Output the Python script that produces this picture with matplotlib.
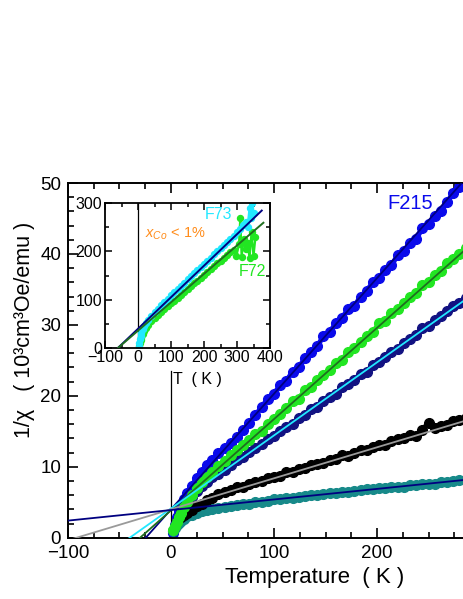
import matplotlib
matplotlib.use("Agg")
import matplotlib.pyplot as plt
from matplotlib.ticker import MultipleLocator, FixedLocator

plt.rcParams['font.family'] = ['Liberation Sans', 'DejaVu Sans']
plt.rcParams['mathtext.fontset'] = 'custom'
plt.rcParams['mathtext.rm'] = 'Liberation Sans'
plt.rcParams['mathtext.it'] = 'Liberation Sans:italic'

# main panel: 1/chi (10^3 cm^3 Oe/emu) vs T (K)
T = [2, 4, 6, 8, 10, 13, 16, 20, 25, 30, 35, 40, 46, 52, 58, 64, 70, 76, 82, 88,
     94, 100, 106, 112, 118, 124, 130, 136, 142, 148, 154, 160, 166, 172, 178, 184,
     190, 196, 202, 208, 214, 220, 226, 232, 238, 244, 250, 256, 262, 268, 274, 280, 286]

blue = [0.6, 1.8, 2.9, 3.8, 4.6, 5.5, 6.3, 7.3, 8.4, 9.3, 10.2, 11.0, 11.9, 12.6, 13.3,
        14.2, 15.2, 16.2, 17.3, 18.4, 19.6, 20.3, 21.5, 22.1, 23.4, 24.0, 25.3, 26.2,
        27.0, 28.4, 29.0, 30.2, 31.0, 32.2, 32.6, 34.0, 34.8, 36.0, 36.6, 37.8, 38.4,
        39.8, 40.4, 41.5, 42.1, 43.6, 44.2, 45.4, 46.0, 47.3, 48.6, 49.4, 50.5]
green = [1.1, 1.6, 2.2, 2.9, 3.5, 4.3, 5.1, 6.0, 7.0, 7.8, 8.6, 9.3, 10.1, 10.8, 11.6,
         12.3, 13.0, 13.8, 14.6, 15.1, 16.0, 16.8, 17.5, 18.3, 19.2, 19.6, 20.8, 21.3,
         22.2, 23.0, 23.6, 24.6, 25.1, 26.2, 26.7, 27.6, 28.5, 29.0, 30.2, 30.6, 31.7,
         32.3, 33.1, 34.0, 34.5, 35.6, 36.0, 37.1, 37.6, 38.7, 39.3, 40.0, 40.8]
navy = [0.9, 1.6, 2.3, 3.0, 3.6, 4.4, 5.0, 5.8, 6.6, 7.3, 7.9, 8.5, 9.0, 9.6, 10.2,
        10.9, 11.4, 12.1, 12.6, 13.2, 13.9, 14.3, 15.0, 15.6, 16.0, 16.9, 17.3, 18.1,
        18.4, 19.3, 19.9, 20.3, 21.2, 21.6, 22.3, 23.1, 23.4, 24.4, 24.8, 25.5, 26.2,
        26.6, 27.5, 28.0, 28.6, 29.5, 29.8, 30.7, 31.2, 31.9, 32.6, 33.1, 33.8]
T_black = T[4:]
black = [2.9, 3.2, 3.5, 3.9, 4.4, 4.8, 5.3, 5.6, 6.1, 6.4, 6.7, 7.1, 7.2, 7.5, 7.8,
         8.0, 8.4, 8.6, 8.7, 9.2, 9.3, 9.7, 9.8, 10.2, 10.4, 10.6, 11.0, 11.1, 11.6,
         11.5, 12.0, 12.4, 12.3, 12.8, 13.1, 13.0, 13.6, 13.9, 14.1, 14.5, 14.3, 15.2,
         16.2, 15.4, 15.8, 15.9, 16.4, 16.6, 16.9]
teal = [1.0, 1.4, 1.8, 2.1, 2.4, 2.7, 3.0, 3.2, 3.5, 3.7, 3.9, 4.0, 4.2, 4.3, 4.5,
        4.6, 4.8, 4.8, 5.0, 5.1, 5.2, 5.4, 5.4, 5.6, 5.6, 5.8, 5.9, 6.0, 6.0, 6.2, 6.3,
        6.3, 6.5, 6.5, 6.6, 6.7, 6.8, 6.8, 7.0, 7.0, 7.1, 7.2, 7.2, 7.4, 7.4, 7.5, 7.6,
        7.6, 7.8, 7.8, 8.0, 8.1, 8.2]

# Curie-Weiss fits: 1/chi = slope * (T - theta)
fit_slope = [0.163, 0.1286, 0.103, 0.0437, 0.0149]
fit_theta = [-24.5, -30.0, -40.0, -91.6, -261.7]
fit_colors = ['#000080', '#1f6e1f', '#22e8ff', '#9a9a9a', '#000080']

# inset: F73 and F72
T73 = [2, 4, 6, 8, 10, 14, 18, 24, 30, 40, 50, 60, 70, 80, 90, 100, 110, 120, 130, 140,
       150, 160, 170, 180, 190, 200, 210, 220, 230, 240, 250, 260, 270, 280, 290, 300,
       310, 318, 326, 332, 338, 342, 346, 350]
F73 = [2, 10, 18, 25, 31, 38, 45, 52, 58, 66, 74, 81, 88, 95, 101, 109, 115, 122, 129,
       135, 142, 148, 155, 161, 168, 174, 181, 187, 194, 200, 207, 213, 220, 226, 233,
       240, 246, 255, 262, 250, 290, 270, 300, 280]
T72 = [4, 6, 8, 10, 14, 18, 24, 30, 40, 50, 60, 70, 80, 90, 100, 110, 120, 130, 140,
       150, 160, 170, 180, 190, 200, 210, 220, 230, 240, 250, 260, 270, 280, 290, 298,
       306, 310, 314, 320, 326, 332, 338, 344, 350, 356]
F72 = [4, 10, 16, 21, 28, 34, 41, 47, 55, 62, 68, 74, 80, 86, 92, 98, 104, 110, 116,
       122, 128, 134, 139, 145, 151, 157, 163, 169, 175, 180, 186, 192, 198, 204, 190,
       215, 270, 188, 225, 205, 218, 186, 240, 190, 230]
in_slope = [0.655, 0.59]
in_theta = [-60.0, -60.0]
in_Tend = [375, 380]
in_fit_colors = ['#000080', '#1f6e1f']

fig = plt.figure(figsize=(4.63, 5.99), dpi=100)
ax = fig.add_axes([68 / 463, 61.3 / 599, 412 / 463, 354.7 / 599])

ax.axvline(0, ymax=0.47, color='black', lw=0.9, zorder=1)

kw = dict(ms=7, lw=3.6, zorder=2)
ax.plot(T, blue, '-o', color='#0a0aeb', **kw)
ax.plot(T, navy, '-o', color='#121282', **kw)
ax.plot(T, teal, '-o', color='#178a8a', **kw)
ax.plot(T_black, black, '-o', color='black', **kw)
ax.plot(T, green, '-o', color='#22e622', **kw)

xr = [-100, 300]
for s, th, c in zip(fit_slope, fit_theta, fit_colors):
    ax.plot(xr, [s * (x - th) for x in xr], color=c, lw=1.3, zorder=3)

ax.set_xlim(-100, 300)
ax.set_ylim(0, 50)
ax.xaxis.set_major_locator(FixedLocator([-100, 0, 100, 200]))
ax.xaxis.set_minor_locator(MultipleLocator(25))
ax.yaxis.set_major_locator(MultipleLocator(10))
ax.yaxis.set_minor_locator(MultipleLocator(2))
ax.tick_params(which='both', direction='in', top=True, right=True, width=1.2,
               labelsize=13.5)
ax.tick_params(which='major', length=7, pad=5)
ax.tick_params(which='minor', length=4)
for sp in ax.spines.values():
    sp.set_linewidth(1.4)

ax.text(0.83, 0.941, 'F215', transform=ax.transAxes, color='#0a0aeb',
        fontsize=14.5, ha='center', va='center')

fig.text(315 / 463, 1 - 578 / 599, 'Temperature  ( K )', fontsize=16,
         ha='center', va='center')
fig.text(25 / 463, 1 - 330 / 599, '1/χ   ( 10³cm³Oe/emu )', fontsize=15.5,
         ha='center', va='center', rotation=90)

# inset
axi = fig.add_axes([105 / 463, 1 - 347.7 / 599, 165 / 463, 144.4 / 599])
axi.axvline(0, color='black', lw=0.9, zorder=1)
axi.plot(T72, F72, '-o', color='#22e622', ms=4.3, lw=1.6, zorder=2)
axi.plot(T73, F73, '-o', color='#22e8ff', ms=4.3, lw=1.6, zorder=2)
for s, th, te, c in zip(in_slope, in_theta, in_Tend, in_fit_colors):
    axi.plot([th, te], [0, s * (te - th)], color=c, lw=1.4, zorder=3)
axi.set_xlim(-100, 400)
axi.set_ylim(0, 300)
axi.xaxis.set_major_locator(MultipleLocator(100))
axi.xaxis.set_minor_locator(MultipleLocator(50))
axi.yaxis.set_major_locator(MultipleLocator(100))
axi.yaxis.set_minor_locator(MultipleLocator(50))
axi.tick_params(which='both', direction='in', top=True, right=True, width=1.1,
                labelsize=11.5, pad=2)
axi.tick_params(which='major', length=5)
axi.tick_params(which='minor', length=3)
for sp in axi.spines.values():
    sp.set_linewidth(1.3)
axi.set_xlabel('T  ( K )', fontsize=11.5, labelpad=0)
axi.xaxis.set_label_coords(0.56, -0.17)
axi.text(245, 276, 'F73', color='#22e8ff', fontsize=11.5, ha='center', va='center')
axi.text(348, 158, 'F72', color='#22e622', fontsize=11.5, ha='center', va='center')
axi.text(113, 237, r'$x_{Co}$ < 1%', color='#ff8c1a', fontsize=10.5,
         ha='center', va='center')

fig.savefig('out.png', dpi=100)
